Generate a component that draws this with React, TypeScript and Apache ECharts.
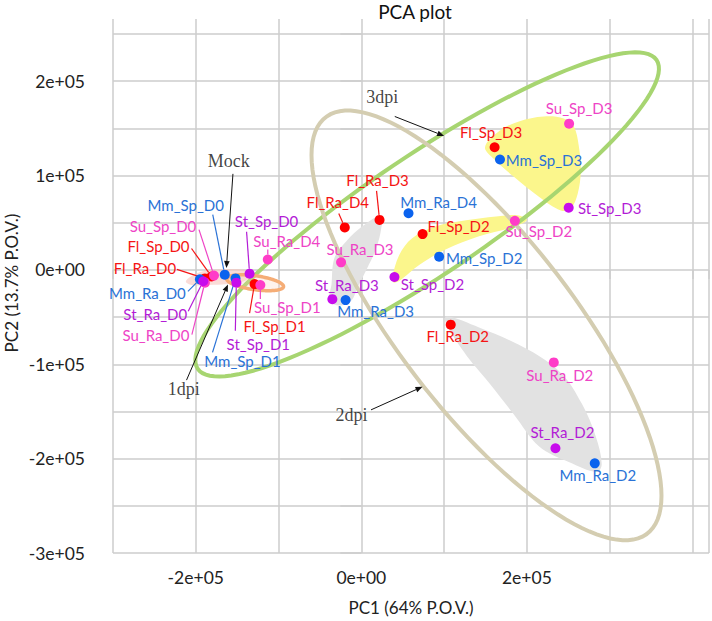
import React, { useEffect, useRef } from 'react';
import * as echarts from 'echarts';

// ---------------- data ----------------
const flNames = ['Fl_Ra_D0', 'Fl_Sp_D0', 'Fl_Sp_D1', 'Fl_Ra_D4', 'Fl_Ra_D3', 'Fl_Sp_D2', 'Fl_Sp_D3', 'Fl_Ra_D2'];
const flPC1 = [-189000, -181000, -129000, -20000, 22000, 74000, 161000, 108000];
const flPC2 = [-9000, -7000, -15000, 45000, 53000, 38000, 130000, -58000];

const mmNames = ['Mm_Sp_D0', 'Mm_Ra_D0', 'Mm_Sp_D1', 'Mm_Ra_D4', 'Mm_Sp_D2', 'Mm_Ra_D3', 'Mm_Sp_D3', 'Mm_Ra_D2'];
const mmPC1 = [-165000, -195000, -152000, 57000, 94000, -19000, 167500, 282000];
const mmPC2 = [-5000, -10000, -9000, 60000, 14000, -32000, 117000, -205000];

const suNames = ['Su_Sp_D0', 'Su_Ra_D0', 'Su_Ra_D4', 'Su_Sp_D1', 'Su_Ra_D3', 'Su_Sp_D2', 'Su_Sp_D3', 'Su_Ra_D2'];
const suPC1 = [-178000, -189000, -113000, -122000, -24500, 185500, 251000, 232500];
const suPC2 = [-6000, -13500, 11000, -16000, 8000, 52000, 155000, -98000];

const stNames = ['St_Ra_D0', 'St_Sp_D0', 'St_Sp_D1', 'St_Ra_D3', 'St_Sp_D2', 'St_Sp_D3', 'St_Ra_D2'];
const stPC1 = [-191000, -135000, -151000, -35000, 40000, 250500, 234500];
const stPC2 = [-12000, -4000, -13500, -31000, -7500, 66000, -189000];

const xLabelValues = [-200000, 0, 200000];
const yLabelValues = [-300000, -200000, -100000, 0, 100000, 200000];

const annotationNames = ['3dpi', 'Mock', '1dpi', '2dpi'];
const annotationPC1 = [25300, -160200, -214500, -12000];
const annotationPC2 = [183700, 115400, -125900, -153700];

// ---------------- layout / styling config ----------------
const LABEL_FONT = 'Lato, "Open Sans", sans-serif';
const SERIF_FONT = '"Liberation Serif", "DejaVu Serif", serif';

const labelOffset: Record<string, [number, number]> = {
  Fl_Ra_D0: [-60, -10], Fl_Sp_D0: [-53, -31], Fl_Sp_D1: [20, 41.5], Fl_Ra_D4: [-7, -25],
  Fl_Ra_D3: [-2, -40], Fl_Sp_D2: [36, -8.5], Fl_Sp_D3: [-3.5, -15], Fl_Ra_D2: [7, 11],
  Mm_Sp_D0: [-39, -70], Mm_Ra_D0: [-52.5, 14], Mm_Sp_D1: [7, 83], Mm_Ra_D4: [30, -11],
  Mm_Sp_D2: [45, 1], Mm_Ra_D3: [30, 11], Mm_Sp_D3: [44, 0], Mm_Ra_D2: [3, 12],
  Su_Sp_D0: [-51, -50], Su_Ra_D0: [-49, 52.5], Su_Ra_D4: [19, -19], Su_Sp_D1: [27, 22],
  Su_Ra_D3: [19, -13.5], Su_Sp_D2: [24, 10], Su_Sp_D3: [10, -15.5], Su_Ra_D2: [6, 13],
  St_Ra_D0: [-48, 33], St_Sp_D0: [17, -53], St_Sp_D1: [22, 61], St_Ra_D3: [14.5, -14],
  St_Sp_D2: [38, 7], St_Sp_D3: [41, 0], St_Ra_D2: [7, -16],
};

const leaderAnchor: Record<string, [number, number]> = {
  Fl_Ra_D0: [-28, -9], Fl_Sp_D0: [-20, -28], Fl_Sp_D1: [-5, 29], Fl_Ra_D4: [-6, -14], Fl_Ra_D3: [-3, -29],
  Mm_Sp_D0: [-12, -60], Mm_Ra_D0: [-12, 12], Mm_Sp_D1: [-23, 74],
  Su_Sp_D0: [-15, -46], Su_Ra_D0: [-13, 52], Su_Ra_D4: [0, -10], Su_Sp_D1: [0, 14],
  St_Ra_D0: [-15, 30], St_Sp_D0: [-3, -42], St_Sp_D1: [-1, 48],
};

const groups = [
  { key: 'Fl', names: flNames, pc1: flPC1, pc2: flPC2, dot: '#ff0000', text: '#f51414' },
  { key: 'Mm', names: mmNames, pc1: mmPC1, pc2: mmPC2, dot: '#0b63ee', text: '#2a72d6' },
  { key: 'Su', names: suNames, pc1: suPC1, pc2: suPC2, dot: '#ff3cc8', text: '#ee44c6' },
  { key: 'St', names: stNames, pc1: stPC1, pc2: stPC2, dot: '#c70cec', text: '#b31cd6' },
];

// group outlines (units of 1e5, in data space): centre + conjugate semi-axes
const ellipses = [
  { c: [0.795, 0.588], u: [2.771, 1.637], v: [0.406, -0.52], stroke: '#a7d571', fill: 'none', width: 4 },
  { c: [1.512, -0.588], u: [2.114, -1.805], v: [0, -1.388], stroke: '#d4cdb1', fill: 'none', width: 4 },
  { c: [-1.283, -0.136], u: [0.343, -0.042], v: [-0.012, -0.073], stroke: '#f5ad76', fill: 'rgba(250,205,180,0.25)', width: 3.5 },
];

const shadedRegions = [
  { fill: 'rgba(246,196,188,0.6)', pts: [[-2.12, -0.12], [-2.0, -0.04], [-1.82, 0.0], [-1.6, 0.01], [-1.4, 0.0], [-1.33, -0.05], [-1.42, -0.12], [-1.62, -0.15], [-1.85, -0.16], [-2.05, -0.16]] },
  { fill: '#e2e2e2', pts: [[1.012, -0.504], [1.422, -0.609], [2.024, -0.85], [2.422, -1.102], [2.663, -1.417], [2.831, -1.763], [2.904, -2.057], [2.843, -2.141], [2.506, -2.036], [2.145, -1.868], [1.843, -1.532], [1.542, -1.196], [1.241, -0.871]] },
  { fill: '#e2e2e2', pts: [[0.241, 0.577], [0.241, 0.441], [0.181, 0.231], [0.072, 0.021], [-0.048, -0.189], [-0.12, -0.325], [-0.265, -0.378], [-0.386, -0.325], [-0.361, -0.157], [-0.325, 0.126], [-0.181, 0.304], [0.012, 0.462]] },
  { fill: '#fbf68c', pts: [[0.373, -0.094], [0.458, 0.157], [0.614, 0.336], [0.904, 0.462], [1.265, 0.525], [1.627, 0.567], [1.904, 0.577], [2.0, 0.525], [1.819, 0.451], [1.422, 0.357], [1.024, 0.22], [0.699, 0.052], [0.494, -0.094], [0.398, -0.136]] },
  { fill: '#fbf68c', pts: [[1.494, 1.301], [1.663, 1.469], [1.904, 1.574], [2.205, 1.626], [2.446, 1.605], [2.566, 1.522], [2.627, 1.312], [2.651, 1.049], [2.614, 0.808], [2.53, 0.651], [2.41, 0.63], [2.145, 0.776], [1.843, 0.986], [1.602, 1.175]] },
];

// arrows (units of 1e5): from -> to
const arrows = [
  [0.404, 1.626, 1.0, 1.42],
  [-1.551, 1.018, -1.63, 0.021],
  [-2.112, -1.168, -1.611, -0.154],
  [0.117, -1.483, 0.739, -1.238],
];

const sci = (v: number) => (v === 0 ? '0e+00' : `${Math.round(v / 100000)}e+05`);
const GRID = '#cdcdcd';

function buildOption() {
  const leaders: { x: number; y: number; a: [number, number]; color: string }[] = [];
  groups.forEach((g) => {
    g.names.forEach((n, i) => {
      if (leaderAnchor[n]) leaders.push({ x: g.pc1[i], y: g.pc2[i], a: leaderAnchor[n], color: g.text });
    });
  });

  const scatterSeries = groups.map((g) => ({
    type: 'scatter',
    name: g.key,
    z: 5,
    symbol: 'circle',
    symbolSize: 10,
    itemStyle: { color: g.dot, opacity: 1 },
    label: {
      show: true,
      position: 'inside',
      formatter: '{b}',
      color: g.text,
      fontFamily: LABEL_FONT,
      fontSize: 15,
    },
    data: g.names.map((n, i) => ({
      name: n,
      value: [g.pc1[i], g.pc2[i]],
      label: { offset: labelOffset[n] || [0, -14] },
    })),
    silent: true,
  }));

  return {
    animation: false,
    backgroundColor: '#ffffff',
    title: {
      text: 'PCA plot',
      left: 415,
      top: 2,
      padding: 0,
      textAlign: 'center',
      textStyle: { fontFamily: LABEL_FONT, fontSize: 19, fontWeight: 'normal', color: '#111' },
    },
    grid: { left: 113, right: 1, top: 34, bottom: 63, containLabel: false },
    xAxis: [
      {
        type: 'value',
        min: -300000,
        max: 420000,
        interval: 100000,
        position: 'bottom',
        name: 'PC1 (64% P.O.V.)',
        nameLocation: 'middle',
        nameGap: 46,
        nameTextStyle: { fontFamily: LABEL_FONT, fontSize: 17, color: '#222' },
        axisLine: { show: false },
        axisTick: { show: true, length: 9, lineStyle: { color: GRID, width: 1.5 } },
        axisLabel: {
          margin: 15,
          fontFamily: LABEL_FONT,
          fontSize: 17.5,
          color: '#222',
          formatter: (v: number) => (xLabelValues.includes(v) ? sci(v) : ''),
        },
        splitLine: { show: true, lineStyle: { color: GRID, width: 1.5 } },
      },
      {
        type: 'value',
        min: -300000,
        max: 420000,
        interval: 100000,
        position: 'top',
        axisLine: { show: false },
        axisTick: { show: true, length: 15, lineStyle: { color: GRID, width: 1.5 } },
        axisLabel: { show: false },
        splitLine: { show: false },
      },
    ],
    yAxis: {
      type: 'value',
      min: -300000,
      max: 250000,
      interval: 50000,
      axisLine: { show: false },
      axisTick: { show: true, length: 21, lineStyle: { color: GRID, width: 1.5 } },
      axisLabel: {
        margin: 28,
        fontFamily: LABEL_FONT,
        fontSize: 17.5,
        color: '#222',
        formatter: (v: number) => (yLabelValues.includes(v) ? sci(v) : ''),
      },
      splitLine: { show: true, lineStyle: { color: GRID, width: 1.5 } },
    },
    graphic: [
      {
        type: 'text',
        x: 11,
        y: 283,
        rotation: Math.PI / 2,
        style: {
          text: 'PC2 (13.7% P.O.V.)',
          font: `17px ${LABEL_FONT}`,
          fill: '#222',
          textAlign: 'center',
          textVerticalAlign: 'middle',
        },
      },
    ],
    series: [
      {
        type: 'custom',
        z: 1,
        silent: true,
        data: shadedRegions.map((s, i) => [s.pts[0][0] * 1e5, s.pts[0][1] * 1e5, i]),
        renderItem: (params: any, api: any) => {
          const s = shadedRegions[params.dataIndex];
          const pts = s.pts.map((p) => api.coord([p[0] * 1e5, p[1] * 1e5]));
          return { type: 'polygon', shape: { points: pts, smooth: 0.35 }, style: { fill: s.fill, stroke: 'none' } };
        },
      },
      {
        type: 'custom',
        z: 2,
        silent: true,
        data: ellipses.map((e, i) => [e.c[0] * 1e5, e.c[1] * 1e5, i]),
        renderItem: (params: any, api: any) => {
          const e = ellipses[params.dataIndex];
          const pts: number[][] = [];
          const N = 120;
          for (let k = 0; k < N; k++) {
            const t = (k / N) * Math.PI * 2;
            const c = Math.cos(t);
            const s = Math.sin(t);
            pts.push(api.coord([(e.c[0] + e.u[0] * c + e.v[0] * s) * 1e5, (e.c[1] + e.u[1] * c + e.v[1] * s) * 1e5]));
          }
          return { type: 'polygon', shape: { points: pts }, style: { fill: e.fill, stroke: e.stroke, lineWidth: e.width } };
        },
      },
      {
        type: 'custom',
        z: 3,
        silent: true,
        data: leaders.map((l, i) => [l.x, l.y, i]),
        renderItem: (params: any, api: any) => {
          const l = leaders[params.dataIndex];
          const p = api.coord([l.x, l.y]);
          const ax = p[0] + l.a[0];
          const ay = p[1] + l.a[1];
          const dx = p[0] - ax;
          const dy = p[1] - ay;
          const len = Math.sqrt(dx * dx + dy * dy) || 1;
          const ex = p[0] - (dx / len) * 5;
          const ey = p[1] - (dy / len) * 5;
          return { type: 'line', shape: { x1: ax, y1: ay, x2: ex, y2: ey }, style: { stroke: l.color, lineWidth: 1.2 } };
        },
      },
      {
        type: 'custom',
        z: 3,
        silent: true,
        data: arrows.map((a, i) => [a[0] * 1e5, a[1] * 1e5, i]),
        renderItem: (params: any, api: any) => {
          const a = arrows[params.dataIndex];
          const p1 = api.coord([a[0] * 1e5, a[1] * 1e5]);
          const p2 = api.coord([a[2] * 1e5, a[3] * 1e5]);
          const dx = p2[0] - p1[0];
          const dy = p2[1] - p1[1];
          const len = Math.sqrt(dx * dx + dy * dy) || 1;
          const ux = dx / len;
          const uy = dy / len;
          const hl = 7;
          const hw = 2.8;
          const bx = p2[0] - ux * hl;
          const by = p2[1] - uy * hl;
          return {
            type: 'group',
            children: [
              { type: 'line', shape: { x1: p1[0], y1: p1[1], x2: bx, y2: by }, style: { stroke: '#111', lineWidth: 1 } },
              {
                type: 'polygon',
                shape: { points: [[p2[0], p2[1]], [bx - uy * hw, by + ux * hw], [bx + uy * hw, by - ux * hw]] },
                style: { fill: '#111' },
              },
            ],
          };
        },
      },
      ...scatterSeries,
      {
        type: 'scatter',
        name: 'annotations',
        z: 6,
        silent: true,
        symbol: 'circle',
        symbolSize: 1,
        itemStyle: { color: 'rgba(0,0,0,0)' },
        label: {
          show: true,
          position: 'inside',
          formatter: '{b}',
          color: '#111',
          fontFamily: SERIF_FONT,
          fontSize: 18,
        },
        data: annotationNames.map((n, i) => ({ name: n, value: [annotationPC1[i], annotationPC2[i]] })),
      },
    ],
  };
}

export default function App() {
  const ref = useRef<HTMLDivElement>(null);
  useEffect(() => {
    if (!ref.current) return;
    const chart = echarts.init(ref.current, null, { renderer: 'svg' });
    chart.setOption(buildOption() as any);
    return () => chart.dispose();
  }, []);
  return (
    <div
      ref={ref}
      style={{ position: 'fixed', left: 0, top: 0, width: 712, height: 621, background: '#ffffff' }}
    />
  );
}
